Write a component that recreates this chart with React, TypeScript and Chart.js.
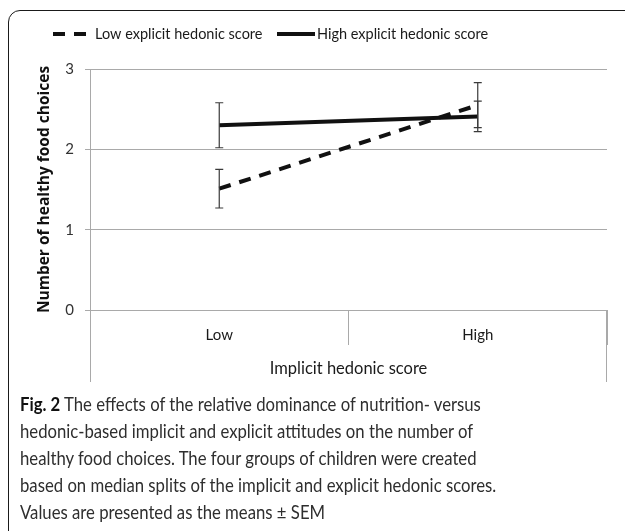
import React, { useEffect, useRef } from "react";
import { Chart, registerables } from "chart.js";

Chart.register(...registerables);

// ---- data ----
const categories = ["Low", "High"];
const seriesLabels = ["Low explicit hedonic score", "High explicit hedonic score"];
const lowExplicitMeans = [1.51, 2.55];
const lowExplicitSem = [0.24, 0.28];
const highExplicitMeans = [2.3, 2.41];
const highExplicitSem = [0.28, 0.19];
const yTicks = [0, 1, 2, 3];
const xTitle = "Implicit hedonic score";
const yTitle = "Number of healthy food choices";
const captionLines = [
  "The effects of the relative dominance of nutrition- versus",
  "hedonic-based implicit and explicit attitudes on the number of",
  "healthy food choices. The four groups of children were created",
  "based on median splits of the implicit and explicit hedonic scores.",
  "Values are presented as the means ± SEM",
];

const GRID = "#a9a9a9";
const FONT = "Lato";

const errorBarPlugin = {
  id: "errorBars",
  afterDatasetsDraw(chart: any) {
    const ctx = chart.ctx;
    const y = chart.scales.y;
    chart.data.datasets.forEach((ds: any, i: number) => {
      const meta = chart.getDatasetMeta(i);
      const errs = ds.sem as number[];
      meta.data.forEach((pt: any, j: number) => {
        const v = ds.data[j];
        const top = y.getPixelForValue(v + errs[j]);
        const bot = y.getPixelForValue(v - errs[j]);
        const x = pt.x;
        ctx.save();
        ctx.strokeStyle = ds.errColor;
        ctx.lineWidth = 1.2;
        ctx.beginPath();
        ctx.moveTo(x, top);
        ctx.lineTo(x, bot);
        ctx.moveTo(x - 4, top);
        ctx.lineTo(x + 4, top);
        ctx.moveTo(x - 4, bot);
        ctx.lineTo(x + 4, bot);
        ctx.stroke();
        ctx.restore();
      });
    });
  },
};

const legendPlugin = {
  id: "customLegend",
  afterDraw(chart: any) {
    const ctx = chart.ctx;
    const items = [
      { x0: 53, x1: 88, tx: 95 },
      { x0: 277, x1: 315, tx: 317 },
    ];
    const cy = 34;
    chart.data.datasets.forEach((ds: any, i: number) => {
      const it = items[i];
      ctx.save();
      ctx.strokeStyle = ds.borderColor;
      ctx.lineWidth = ds.borderWidth;
      ctx.setLineDash(ds.borderDash || []);
      ctx.beginPath();
      ctx.moveTo(it.x0, cy);
      ctx.lineTo(it.x1, cy);
      ctx.stroke();
      ctx.setLineDash([]);
      ctx.fillStyle = "#1a1a1a";
      ctx.font = `14.5px ${FONT}`;
      ctx.textBaseline = "middle";
      ctx.textAlign = "left";
      ctx.fillText(ds.label, it.tx, cy);
      ctx.restore();
    });
  },
};

const tablePlugin = {
  id: "categoryTable",
  afterDraw(chart: any) {
    const ctx = chart.ctx;
    const { left, right, bottom } = chart.chartArea;
    ctx.save();
    ctx.strokeStyle = GRID;
    ctx.lineWidth = 1;
    ctx.beginPath();
    ctx.moveTo(left + 0.5, bottom);
    ctx.lineTo(left + 0.5, bottom + 72);
    ctx.moveTo(right - 0.5, bottom);
    ctx.lineTo(right - 0.5, bottom + 72);
    ctx.stroke();
    ctx.restore();
  },
};

function ChartView() {
  const ref = useRef<HTMLCanvasElement | null>(null);
  useEffect(() => {
    if (!ref.current) return;
    const chart = new Chart(ref.current, {
      type: "line",
      data: {
        labels: categories,
        datasets: [
          {
            label: seriesLabels[0],
            data: lowExplicitMeans,
            sem: lowExplicitSem,
            errColor: "#3a3a3a",
            borderColor: "#111111",
            borderWidth: 4,
            borderDash: [12, 9],
            pointRadius: 0,
            tension: 0,
            fill: false,
          } as any,
          {
            label: seriesLabels[1],
            data: highExplicitMeans,
            sem: highExplicitSem,
            errColor: "#3a3a3a",
            borderColor: "#111111",
            borderWidth: 4,
            pointRadius: 0,
            tension: 0,
            fill: false,
          } as any,
        ],
      },
      options: {
        responsive: false,
        animation: false,
        devicePixelRatio: 1,
        layout: { padding: { top: 69, right: 18, left: 0, bottom: 0 } },
        plugins: { legend: { display: false }, tooltip: { enabled: false } },
        scales: {
          x: {
            type: "category",
            offset: true,
            grid: {
              offset: true,
              drawOnChartArea: false,
              drawTicks: true,
              tickLength: 35,
              color: GRID,
              tickColor: GRID,
            },
            border: { display: false },
            ticks: { padding: -19, color: "#1a1a1a", font: { family: FONT, size: 15 } },
            title: {
              display: true,
              text: xTitle,
              color: "#1a1a1a",
              font: { family: FONT, size: 16.5 },
              padding: { top: 0, bottom: 16 },
            },
            afterFit: (s: any) => {
              s.height = 85;
            },
          },
          y: {
            min: 0,
            max: 3,
            afterBuildTicks: (s: any) => {
              s.ticks = yTicks.map((v) => ({ value: v }));
            },
            grid: { color: GRID, tickColor: GRID, tickLength: 5 },
            border: { display: true, color: GRID },
            ticks: { padding: 11, color: "#333333", font: { family: FONT, size: 15 } },
            title: {
              display: true,
              text: yTitle,
              color: "#111111",
              font: { family: "Open Sans", size: 15.5, weight: 700 },
              padding: { top: 35, bottom: 0 },
            },
            afterFit: (s: any) => {
              s.width = 90;
            },
          },
        },
      },
      plugins: [errorBarPlugin, legendPlugin, tablePlugin],
    } as any);
    return () => chart.destroy();
  }, []);
  return <canvas ref={ref} width={625} height={395} style={{ display: "block" }} />;
}

export default function App() {
  return (
    <div
      style={{
        position: "fixed",
        left: 0,
        top: 0,
        width: 625,
        height: 531,
        overflow: "hidden",
        background: "#ffffff",
      }}
    >
      <div
        style={{
          position: "absolute",
          left: 8,
          top: 10,
          width: 800,
          height: 700,
          border: "1.5px solid #1a1a1a",
          borderRadius: 12,
          boxSizing: "border-box",
        }}
      />
      <div style={{ position: "absolute", left: 0, top: 0 }}>
        <ChartView />
      </div>
      <div
        style={{
          position: "absolute",
          left: 20,
          top: 390,
          fontFamily: FONT,
          fontSize: 19,
          lineHeight: "27px",
          color: "#2e2e2e",
          whiteSpace: "nowrap",
          transform: "scaleX(0.88)",
          transformOrigin: "0 0",
        }}
      >
        {captionLines.map((line, i) => (
          <div key={i}>
            {i === 0 ? (
              <>
                <b style={{ color: "#111111" }}>Fig. 2</b>{" "}
              </>
            ) : null}
            {line}
          </div>
        ))}
      </div>
    </div>
  );
}
